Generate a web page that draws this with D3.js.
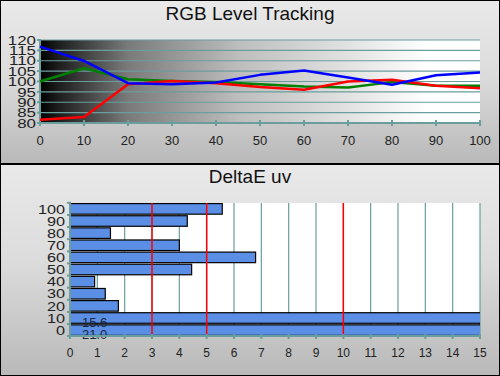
<!DOCTYPE html>
<html>
<head>
<meta charset="utf-8">
<script src="https://cdnjs.cloudflare.com/ajax/libs/d3/7.8.5/d3.min.js"></script>
<style>
  body { margin: 0; background: #fff; }
  svg { display: block; font-family: "Liberation Sans", Arial, sans-serif; }
</style>
</head>
<body>
<svg id="chart" width="500" height="376"></svg>
<script>
// RGB level tracking data
var levels = [0, 10, 20, 30, 40, 50, 60, 70, 80, 90, 100];
var redVals = [81.6, 82.9, 98.7, 100.2, 99.2, 97.3, 96.0, 100.0, 100.8, 97.9, 96.8];
var greenVals = [100.0, 106.4, 101.1, 100.3, 99.8, 98.7, 97.6, 97.1, 99.7, 97.9, 97.9];
var blueVals = [116.8, 109.9, 99.2, 98.7, 99.5, 103.2, 105.3, 101.9, 98.4, 103.0, 104.3];
var yTicksTop = [80, 85, 90, 95, 100, 105, 110, 115, 120];

// DeltaE uv data
var deCats = [100, 90, 80, 70, 60, 50, 40, 30, 20, 10, 0];
var deVals = [5.57, 4.29, 1.48, 4.0, 6.79, 4.45, 0.9, 1.29, 1.77, 15.6, 21.0];
var deLimits = [3, 5, 10];
var xTicksBottom = d3.range(0, 16);

var svg = d3.select("#chart");
var W = 500, H = 376;
var teal = "#6a9e9c";

var defs = svg.append("defs");
var pg = defs.append("linearGradient").attr("id", "panelGrad")
    .attr("x1", 0).attr("y1", 0).attr("x2", 0).attr("y2", 1);
pg.append("stop").attr("offset", "0%").attr("stop-color", "#e9e9e9");
pg.append("stop").attr("offset", "45%").attr("stop-color", "#dcdcdc");
pg.append("stop").attr("offset", "100%").attr("stop-color", "#b9b9b9");

var bg = defs.append("linearGradient").attr("id", "plotGrad")
    .attr("x1", 0).attr("y1", 0).attr("x2", 1).attr("y2", 0);
[["0%", "#000"], ["4%", "#1c1c1c"], ["20%", "#7a7a7a"], ["45%", "#bdbdbd"], ["70%", "#e2e2e2"], ["88%", "#fff"], ["100%", "#fff"]]
    .forEach(s => bg.append("stop").attr("offset", s[0]).attr("stop-color", s[1]));

// panels
svg.append("rect").attr("x", 0).attr("y", 0).attr("width", W).attr("height", H).attr("fill", "#000");
svg.append("rect").attr("x", 1).attr("y", 1).attr("width", W - 2).attr("height", 162).attr("fill", "url(#panelGrad)");
svg.append("rect").attr("x", 1).attr("y", 165).attr("width", W - 2).attr("height", 210).attr("fill", "url(#panelGrad)");

//titles
svg.append("text").attr("x", 250).attr("y", 20).attr("text-anchor", "middle")
    .attr("font-size", 19).attr("fill", "#111").text("RGB Level Tracking");
svg.append("text").attr("x", 250).attr("y", 183).attr("text-anchor", "middle")
    .attr("font-size", 19).attr("fill", "#111").text("DeltaE uv");

// ---- top chart
var x = d3.scaleLinear().domain([0, 100]).range([40, 480]);
var y = d3.scaleLinear().domain([80, 120]).range([123, 40]);

svg.append("rect").attr("x", x(0)).attr("y", y(120)).attr("width", x(100) - x(0))
    .attr("height", y(80) - y(120)).attr("fill", "url(#plotGrad)");

var topG = svg.append("g");
topG.selectAll("line.grid").data(yTicksTop.slice(1)).enter().append("line")
    .attr("x1", x(0)).attr("x2", x(100))
    .attr("y1", d => y(d)).attr("y2", d => y(d))
    .attr("stroke", teal).attr("stroke-width", 1.2);

topG.append("line").attr("x1", x(0)).attr("x2", x(0)).attr("y1", y(120)).attr("y2", y(80))
    .attr("stroke", teal).attr("stroke-width", 2);
topG.append("line").attr("x1", x(0)).attr("x2", x(100)).attr("y1", y(80)).attr("y2", y(80))
    .attr("stroke", teal).attr("stroke-width", 2);
topG.selectAll("line.yt").data(yTicksTop).enter().append("line")
    .attr("x1", x(0) - 3).attr("x2", x(0) + 1).attr("y1", d => y(d)).attr("y2", d => y(d))
    .attr("stroke", teal).attr("stroke-width", 2);
topG.selectAll("line.xt").data(levels).enter().append("line")
    .attr("x1", d => x(d)).attr("x2", d => x(d)).attr("y1", y(80) - 3).attr("y2", y(80) + 3)
    .attr("stroke", teal).attr("stroke-width", 2);

// y labels are drawn wide, like the stretched ones in the picture
topG.selectAll("text.yl").data(yTicksTop).enter().append("text")
    .attr("transform", d => "translate(36," + y(d) + ") scale(1.3,1)")
    .attr("dy", "0.36em").attr("text-anchor", "end")
    .attr("font-size", 13).attr("fill", "#222").text(d => d);
topG.selectAll("text.xl").data(levels).enter().append("text")
    .attr("x", d => x(d)).attr("y", 145).attr("text-anchor", "middle")
    .attr("font-size", 13).attr("fill", "#222").text(d => d);

var line = d3.line().x((d, i) => x(levels[i])).y(d => y(d));
[[greenVals, "#008000"], [redVals, "#ff0000"], [blueVals, "#0000ff"]].forEach(s => {
    topG.append("path").datum(s[0]).attr("d", line).attr("fill", "none")
        .attr("stroke", s[1]).attr("stroke-width", 2.5).attr("stroke-linejoin", "round");
});

// ---- bottom chart
var bx = d3.scaleLinear().domain([0, 15]).range([70, 480]);
var by = d3.scaleBand().domain(deCats).range([203, 336]).paddingInner(0.13).paddingOuter(0.05);
var plotTop = 203, plotBot = 336;

defs.append("clipPath").attr("id", "clipB").append("rect")
    .attr("x", bx(0)).attr("y", plotTop).attr("width", bx(15) - bx(0)).attr("height", plotBot - plotTop);

var botG = svg.append("g");
botG.append("rect").attr("x", bx(0)).attr("y", plotTop).attr("width", bx(15) - bx(0))
    .attr("height", plotBot - plotTop).attr("fill", "#fff");

botG.selectAll("line.grid").data(xTicksBottom.slice(1)).enter().append("line")
    .attr("x1", d => bx(d)).attr("x2", d => bx(d)).attr("y1", plotTop).attr("y2", plotBot)
    .attr("stroke", teal).attr("stroke-width", 1.2);

botG.append("g").attr("clip-path", "url(#clipB)")
    .selectAll("rect").data(deVals).enter().append("rect")
    .attr("x", bx(0)).attr("y", (d, i) => by(deCats[i]))
    .attr("width", d => bx(d) - bx(0)).attr("height", by.bandwidth())
    .attr("fill", "#5b8fe6").attr("stroke", "#000").attr("stroke-width", 1.2);

botG.selectAll("line.lim").data(deLimits).enter().append("line")
    .attr("x1", d => bx(d)).attr("x2", d => bx(d)).attr("y1", plotTop).attr("y2", plotBot)
    .attr("stroke", "#ff0000").attr("stroke-width", 1.5);

// labels for bars running off the scale
botG.selectAll("text.val").data(deVals.filter(d => d > 15)).enter().append("text")
    .attr("x", bx(0) + 12)
    .attr("y", d => by(deCats[deVals.indexOf(d)]) + by.bandwidth() + 4)
    .attr("font-size", 13).attr("fill", "#1a2540").text(d => d.toFixed(1));

botG.append("line").attr("x1", bx(0)).attr("x2", bx(0)).attr("y1", plotTop).attr("y2", plotBot)
    .attr("stroke", teal).attr("stroke-width", 2);
botG.append("line").attr("x1", bx(0)).attr("x2", bx(15)).attr("y1", plotBot).attr("y2", plotBot)
    .attr("stroke", teal).attr("stroke-width", 2);
var yTickPos = deCats.map(c => by(c) - by.step() * by.paddingInner() / 2).concat([plotBot]);
botG.selectAll("line.yt").data(yTickPos).enter().append("line")
    .attr("x1", bx(0) - 3).attr("x2", bx(0) + 1).attr("y1", d => d).attr("y2", d => d)
    .attr("stroke", teal).attr("stroke-width", 2);
botG.selectAll("line.xt").data(xTicksBottom).enter().append("line")
    .attr("x1", d => bx(d)).attr("x2", d => bx(d)).attr("y1", plotBot - 2).attr("y2", plotBot + 3)
    .attr("stroke", teal).attr("stroke-width", 2);

botG.selectAll("text.yl").data(deCats).enter().append("text")
    .attr("transform", d => "translate(65," + (by(d) + by.bandwidth() / 2) + ") scale(1.25,1)")
    .attr("dy", "0.36em")
    .attr("text-anchor", "end").attr("font-size", 13).attr("fill", "#222").text(d => d);
botG.selectAll("text.xl").data(xTicksBottom).enter().append("text")
    .attr("x", d => bx(d)).attr("y", 357).attr("text-anchor", "middle")
    .attr("font-size", 12).attr("fill", "#222").text(d => d);
</script>
</body>
</html>
